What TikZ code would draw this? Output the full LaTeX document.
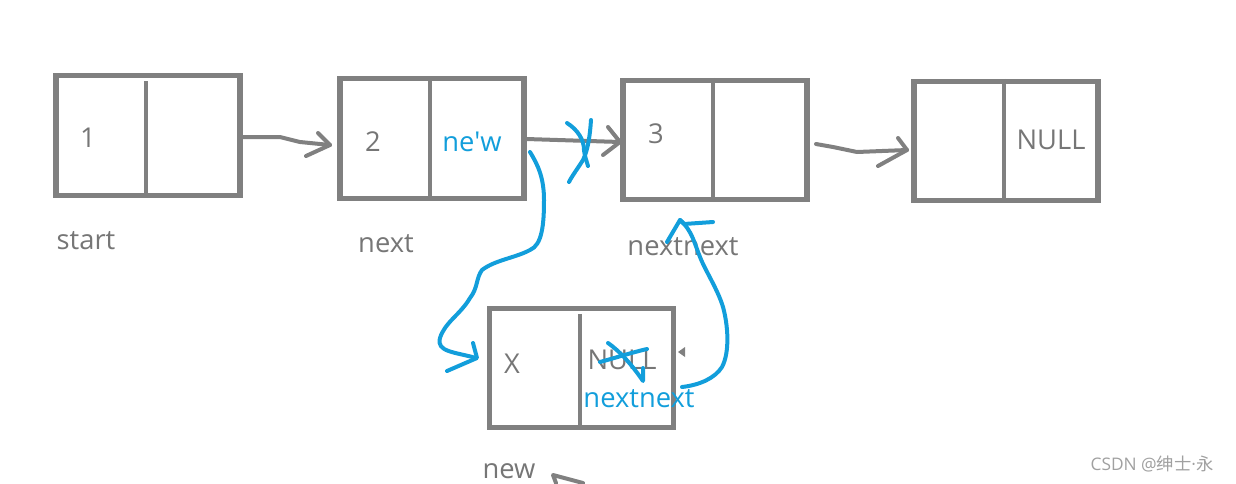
\documentclass[tikz,border=0pt]{standalone}
\usepackage{fontspec}
\setmainfont{Open Sans}
\newfontfamily\rawfont{Open Sans}
\newfontfamily\cjk{Noto Sans CJK SC}
\definecolor{boxgray}{RGB}{128,128,128}
\definecolor{txtgray}{RGB}{118,118,118}
\definecolor{pen}{RGB}{18,158,219}
\definecolor{wm}{RGB}{160,160,160}
\begin{document}
\begin{tikzpicture}[x=0.75pt,y=-0.75pt,
  cell/.style={draw=boxgray,line width=3.8pt,minimum width=138pt,minimum height=89.5pt,inner sep=0pt},
  divider/.style={draw=boxgray,line width=3.2pt},
  lbl/.style={text=txtgray,font=\fontsize{20.5}{23}\selectfont,inner sep=0pt},
  bluelbl/.style={text=pen,font=\fontsize{20.5}{23}\selectfont,inner sep=0pt},
  grayink/.style={draw=boxgray,line width=3pt,line cap=round,line join=round},
  blueink/.style={draw=pen,line width=3pt,line cap=round,line join=round}]
\useasboundingbox (0,0) rectangle (1236,483);
% boxes
\node[cell] (b1) at (148,135.5) {};
\node[cell] (b2) at (432,138.5) {};
\node[cell] (b3) at (715,140) {};
\node[cell] (b4) at (1006,141) {};
\node[cell] (b5) at (581.5,368) {};
\draw[divider] ([yshift=-6pt]b1.north -| 146,0) -- (b1.south -| 146,0);
\draw[divider] (b2.north -| 430,0) -- (b2.south -| 430,0);
\draw[divider] (b3.north -| 713,0) -- (b3.south -| 713,0);
\draw[divider] (b4.north -| 1004,0) -- (b4.south -| 1004,0);
\draw[divider] ([yshift=-6pt]b5.north -| 580,0) -- (b5.south -| 580,0);
% texts in boxes
\node[lbl] (t1) at (88,138) {1};
\node[lbl] (t2) at (373,142) {2};
\node[bluelbl] (tnew) at (472,142) {\rawfont ne'w};
\node[lbl] (t3) at (656,134) {3};
\node[lbl] (tnull) at (1051,140) {NULL};
\node[lbl] (tx) at (512,364) {X};
\node[lbl] (tnull2) at (622,360) {NULL};
\node[bluelbl] (tnn) at (639,399) {nextnext};
% labels
\node[lbl] (lstart) at (86,241) {start};
\node[lbl] (lnext) at (386,244) {next};
\node[lbl] (lnn) at (683,247) {nextnext};
\node[lbl] (lnewl) at (509,471) {new};
\node[text=wm,font=\fontsize{13}{15}\selectfont,inner sep=0pt] (wmk) at (1152,464) {CSDN @{\cjk 绅士}·{\cjk 永}};
% gray hand-drawn arrows
\coordinate (a1h) at (330,145);
\draw[grayink] (b1.east |- 0,137) -- (280,137) -- (300,142) -- (a1h);
\draw[grayink] (318,133) -- (a1h) -- (306,156);
\coordinate (a2h) at (620,142);
\draw[grayink] (b2.east |- 0,139) -- (a2h);
\draw[grayink] (608,127) -- (a2h) -- (603,155);
\coordinate (a3h) at (907,150);
\draw[grayink] (816,144) -- (833,147) -- (857,152) -- (a3h);
\draw[grayink] (898,138) -- (a3h) -- (878,166);
% small gray tip near new box
\fill[boxgray] (678,352) -- (685,347) -- (685,357) -- cycle;
% gray tip at bottom (cut)
\draw[grayink] (583,483) -- (553,475) -- (556,483);
% blue crossing on arrow 2
\draw[blueink] (567,123) .. controls (578,130) and (584,140) .. (584,150) .. controls (585,158) and (587,162) .. (588,166);
\draw[blueink] (591,120) .. controls (590,135) and (588,150) .. (583,160) .. controls (578,168) and (572,176) .. (569,182);
% blue curve from next box to new box
\coordinate (bc1) at (476,358);
\draw[blueink] (530,152) .. controls (538,165) and (544,178) .. (544,200)
  .. controls (544,225) and (542,245) .. (530,250)
  .. controls (515,258) and (495,260) .. (482,270)
  .. controls (476,278) and (478,288) .. (470,298)
  .. controls (460,315) and (445,322) .. (440,338)
  .. controls (436,352) and (455,352) .. (bc1);
\draw[blueink] (473,343) -- (477,358) -- (447,371);
% blue cross on NULL in new box
\draw[blueink] (600,362) .. controls (615,358) and (630,353) .. (647,349);
\draw[blueink] (608,343) .. controls (618,350) and (630,362) .. (643,381) -- (643,368);
% blue curve from new box back to nextnext
\coordinate (bc2) at (680,220);
\draw[blueink] (682,387) .. controls (700,385) and (715,378) .. (722,367)
  .. controls (730,352) and (728,325) .. (723,307)
  .. controls (718,290) and (705,270) .. (700,257)
  .. controls (695,245) and (692,230) .. (bc2);
\draw[blueink] (667,242) -- (bc2) -- (684,224) -- (713,222);
\end{tikzpicture}
\end{document}
